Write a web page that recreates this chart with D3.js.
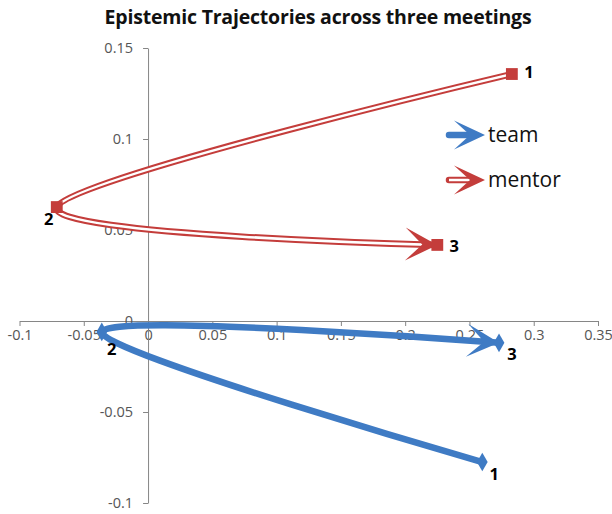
<!DOCTYPE html>
<html>
<head>
<meta charset="utf-8">
<title>Epistemic Trajectories</title>
<script src="https://cdn.jsdelivr.net/npm/d3@7/dist/d3.min.js"></script>
<style>
  body { margin: 0; background: #fff; }
  text { font-family: "Open Sans", sans-serif; }
</style>
</head>
<body>
<svg id="chart" width="612" height="514"></svg>
<script>
// data
const meetings = ["1", "2", "3"];
const teamX = [0.26, -0.036, 0.273];
const teamY = [-0.0775, -0.006, -0.012];
const mentorX = [0.283, -0.071, 0.225];
const mentorY = [0.1357, 0.0626, 0.0418];
const xTicks = [-0.1, -0.05, 0, 0.05, 0.1, 0.15, 0.2, 0.25, 0.3, 0.35];
const yTicks = [-0.1, -0.05, 0, 0.05, 0.1, 0.15];
const seriesNames = ["team", "mentor"];

const svg = d3.select("#chart");
const x = d3.scaleLinear().domain([-0.1, 0.35]).range([19.5, 598]);
const y = d3.scaleLinear().domain([-0.1, 0.15]).range([503, 48]);

const blue = "#3f7bc4", red = "#c43d3b", axisCol = "#868686";

svg.append("text")
  .attr("x", 318).attr("y", 24)
  .attr("text-anchor", "middle")
  .style("font-weight", "bold").style("font-size", "19.5px").style("fill", "#111")
  .style("letter-spacing", "-0.2px")
  .text("Epistemic Trajectories across three meetings");

// axes crossing at zero
const xAxis = svg.append("g").attr("transform", `translate(0,${y(0)})`)
  .call(d3.axisBottom(x).tickValues(xTicks).tickFormat(d => String(d)).tickSize(5).tickSizeOuter(0).tickPadding(4));
const yAxis = svg.append("g").attr("transform", `translate(${x(0)},0)`)
  .call(d3.axisLeft(y).tickValues(yTicks).tickFormat(d => String(d)).tickSize(5).tickSizeOuter(0).tickPadding(10));
[xAxis, yAxis].forEach(g => {
  g.selectAll("path, line").attr("stroke", axisCol);
  g.selectAll("text").style("font-size", "14.5px").style("fill", "#555").style("font-family", "Open Sans, sans-serif");
});

const line = d3.line().x(d => x(d[0])).y(d => y(d[1])).curve(d3.curveCardinal.tension(0));

function arrowHead(g, px, py, ang, color, L, W, N) {
  g.append("path")
    .attr("d", `M0,0L${-L},${-W}L${-N},0L${-L},${W}Z`)
    .attr("transform", `translate(${px},${py}) rotate(${ang})`)
    .attr("fill", color);
}

function endAngle(path) {
  const node = path.node(), len = node.getTotalLength();
  const a = node.getPointAtLength(len - 12), b = node.getPointAtLength(len);
  return Math.atan2(b.y - a.y, b.x - a.x) * 180 / Math.PI;
}

function drawSeries(xs, ys, color, double, symbol, offsets) {
  const pts = xs.map((v, i) => [v, ys[i]]);
  const g = svg.append("g");
  const p = g.append("path").attr("d", line(pts)).attr("fill", "none")
    .attr("stroke", color).attr("stroke-width", 6.5).attr("stroke-linecap", "round");
  if (double) {
    g.append("path").attr("d", line(pts)).attr("fill", "none")
      .attr("stroke", "#fff").attr("stroke-width", 2.5);
  }
  const last = pts[pts.length - 1];
  arrowHead(g, x(last[0]), y(last[1]), endAngle(p), color, 32, 16.5, 15);
  g.selectAll(".mk").data(pts).join("path")
    .attr("d", d3.symbol().type(symbol).size(double ? 140 : 100))
    .attr("transform", d => `translate(${x(d[0])},${y(d[1])})`)
    .attr("fill", color);
  g.selectAll(".lb").data(pts).join("text")
    .attr("x", (d, i) => x(d[0]) + offsets[i][0])
    .attr("y", (d, i) => y(d[1]) + offsets[i][1])
    .attr("text-anchor", "middle").attr("dy", "0.35em")
    .style("font-weight", "bold").style("font-size", "16.5px").style("fill", "#000")
    .text((d, i) => meetings[i]);
}

drawSeries(teamX, teamY, blue, false, d3.symbolDiamond, [[12, 12], [10, 17], [13, 11]]);
drawSeries(mentorX, mentorY, red, true, d3.symbolSquare, [[17, -2], [-8, 12], [17, 1]]);

// legend
const legend = svg.append("g");
[blue, red].forEach((c, i) => {
  const ly = 135 + i * 45;
  legend.append("line").attr("x1", 449).attr("x2", 470).attr("y1", ly).attr("y2", ly)
    .attr("stroke", c).attr("stroke-width", 6.5).attr("stroke-linecap", "round");
  if (i === 1) {
    legend.append("line").attr("x1", 449).attr("x2", 470).attr("y1", ly).attr("y2", ly)
      .attr("stroke", "#fff").attr("stroke-width", 2.5);
  }
  arrowHead(legend, 485, ly, 0, c, 31, 14.5, 15);
  legend.append("text").attr("x", 488).attr("y", ly).attr("dy", "0.35em")
    .style("font-size", "21px").style("fill", "#111").text(seriesNames[i]);
});
</script>
</body>
</html>
